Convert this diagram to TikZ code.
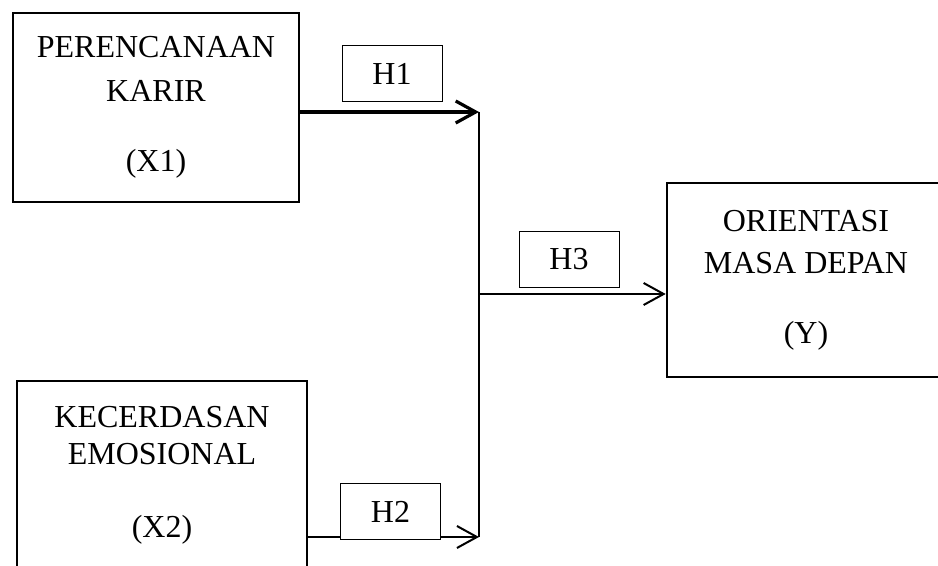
\documentclass[tikz,border=0pt]{standalone}
\usepackage{fontspec}
\setmainfont{Liberation Serif}
\usetikzlibrary{arrows.meta}
\tikzset{
	barb/.tip={Straight Barb[length=10pt, width=11pt]},
	var/.style={draw, line width=1.3pt, align=center, inner sep=0pt, font=\fontsize{16}{22}\selectfont},
	hyp/.style={draw, fill=white, line width=0.5pt, minimum width=50pt, minimum height=28pt, inner sep=0pt, font=\fontsize{16}{22}\selectfont},
}

\begin{document}
\begin{tikzpicture}[x=0.5pt, y=-0.5pt]
	% Frame
	\useasboundingbox (0,0) rectangle (938,566);
	\clip (0,0) rectangle (938,566);
	
	% Variables
	\node[var, minimum width=143pt, minimum height=94.5pt] (X1) at (156,107.5) {PERENCANAAN\\KARIR\\[13pt](X1)};
	\node[var, minimum width=145pt, minimum height=94.5pt] (X2) at (162,475.5) {KECERDASAN\\[-3.5pt]EMOSIONAL\\[14.5pt](X2)};
	\node[var, minimum width=139pt, minimum height=97pt] (Y) at (806,280) {ORIENTASI\\[-1pt]MASA DEPAN\\[13pt](Y)};
	
	% Junction
	\coordinate (jtop) at (479,112);
	\coordinate (jmid) at (479,294);
	\coordinate (jbot) at (479,537);
	\draw[line width=0.8pt] (jtop) -- (jbot);
	\draw[-barb, line width=1.6pt] (X1.east |- jtop) -- (jtop);
	\draw[-barb, line width=1pt] (X2.east |- jbot) -- (jbot);
	\draw[-barb, line width=1pt] (jmid) -- (jmid -| Y.west);
	
	% Hypotheses
	\node[hyp] (h1) at (392,73.5) {H1};
	\node[hyp] (h2) at (390.5,512) {H2};
	\node[hyp] (h3) at (569,259.5) {H3};
\end{tikzpicture}
\end{document}
